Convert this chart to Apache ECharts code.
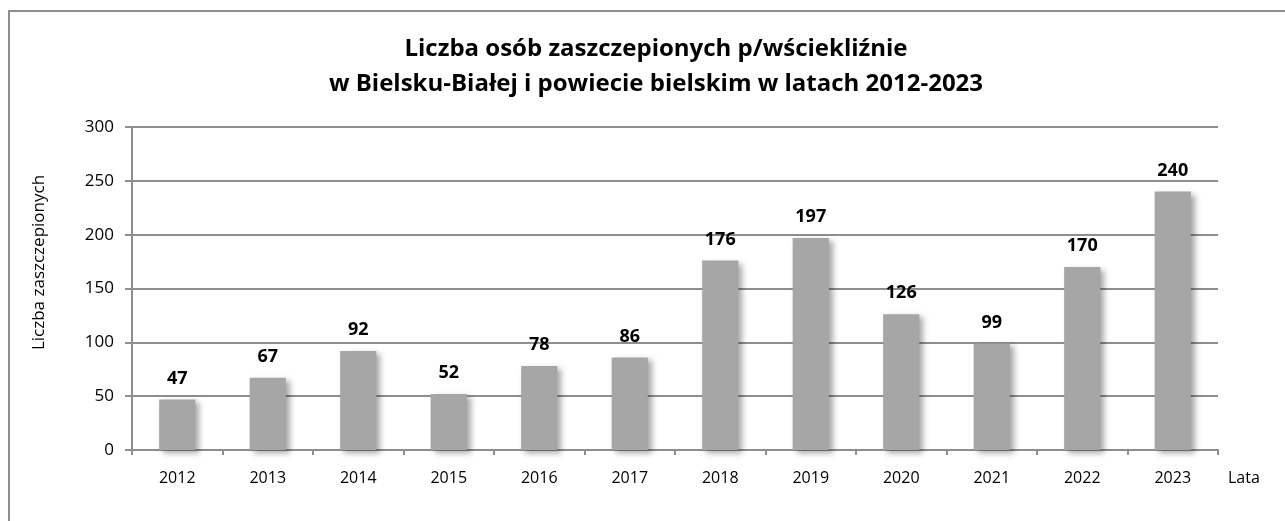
<!DOCTYPE html>
<html>
<head>
<meta charset="utf-8">
<script src="https://cdn.jsdelivr.net/npm/echarts@6/dist/echarts.min.js"></script>
<style>
  html, body { margin: 0; padding: 0; background: #fff; }
  #chart { width: 1285px; height: 521px; }
</style>
</head>
<body>
<div id="chart"></div>
<script>
  // dane z wykresu
  var lata = ['2012', '2013', '2014', '2015', '2016', '2017', '2018', '2019', '2020', '2021', '2022', '2023'];
  var zaszczepieni = [47, 67, 92, 52, 78, 86, 176, 197, 126, 99, 170, 240];
  var osY = [0, 50, 100, 150, 200, 250, 300];

  var font = '"Open Sans", "Noto Sans", sans-serif';
  var myChart = echarts.init(document.getElementById('chart'));
  var option = {
    backgroundColor: '#fff',
    animation: false,
    title: {
      text: 'Liczba osób zaszczepionych p/wściekliźnie\nw Bielsku-Białej i powiecie bielskim w latach 2012-2023',
      left: 651,
      textAlign: 'center',
      top: 27,
      textStyle: {
        fontFamily: font,
        fontWeight: 'bold',
        fontSize: 24,
        lineHeight: 35,
        color: '#000'
      }
    },
    graphic: [{
      type: 'rect',
      shape: { x: 9, y: 11, width: 1300, height: 540 },
      style: { fill: 'none', stroke: '#8e8e8e', lineWidth: 2 },
      silent: true,
      z: -1
    }],
    grid: {
      left: 132,
      right: 67,
      top: 127,
      bottom: 71
    },
    xAxis: {
      type: 'category',
      data: lata,
      name: 'Lata',
      nameLocation: 'end',
      nameGap: 10,
      nameTextStyle: { fontFamily: font, fontSize: 16, color: '#000', verticalAlign: 'top', padding: [20, 0, 0, 0] },
      axisLine: { lineStyle: { color: '#8e8e8e', width: 2 } },
      axisTick: { show: true, length: 5, lineStyle: { color: '#8e8e8e', width: 2 } },
      axisLabel: { fontFamily: font, fontSize: 16, color: '#000', margin: 20 }
    },
    yAxis: {
      type: 'value',
      min: osY[0],
      max: osY[osY.length - 1],
      interval: osY[1] - osY[0],
      name: 'Liczba zaszczepionych',
      nameLocation: 'middle',
      nameGap: 84,
      nameTextStyle: { fontFamily: font, fontSize: 17, color: '#000', padding: [0, 0, 0, 52] },
      axisLine: { show: true, lineStyle: { color: '#8e8e8e', width: 2 } },
      axisTick: { show: true, length: 7, lineStyle: { color: '#8e8e8e', width: 2 } },
      axisLabel: { fontFamily: font, fontSize: 17, color: '#000', margin: 18 },
      splitLine: { lineStyle: { color: '#8e8e8e', width: 2 } }
    },
    series: [{
      name: 'Liczba zaszczepionych',
      type: 'bar',
      data: zaszczepieni,
      barWidth: '40%',
      itemStyle: {
        color: '#a6a6a6',
        shadowColor: 'rgba(0,0,0,0.35)',
        shadowBlur: 6,
        shadowOffsetX: 4,
        shadowOffsetY: 3
      },
      label: {
        show: true,
        position: 'top',
        distance: 12,
        fontFamily: font,
        fontWeight: 'bold',
        fontSize: 18,
        color: '#000'
      }
    }]
  };
  myChart.setOption(option);
</script>
</body>
</html>
